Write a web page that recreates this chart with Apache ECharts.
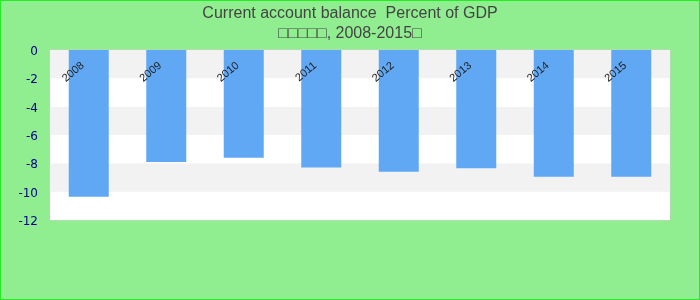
<!DOCTYPE html>
<html><head><meta charset="utf-8">
<script src="https://cdn.jsdelivr.net/npm/echarts@6/dist/echarts.min.js"></script>
<style>html,body{margin:0;padding:0;}#c{width:700px;height:300px;box-sizing:border-box;border:1px solid #22ee22;background:#90ee90;}</style>
</head><body><div id="c"></div>
<script>
const categories = ['2008','2009','2010','2011','2012','2013','2014','2015'];
const values = [-10.35, -7.9, -7.6, -8.3, -8.6, -8.35, -8.95, -8.95];
const titleLine1 = 'Current account balance  Percent of GDP';
const titleLine2 = '□□□□□, 2008-2015□';
const chart = echarts.init(document.getElementById('c'));
chart.setOption({
  backgroundColor: 'transparent',
  title: {
    text: titleLine1 + '\n' + titleLine2,
    left: 'center', top: -2,
    textStyle: {fontFamily: 'Liberation Sans, Arial', fontSize: 16, fontWeight: 'normal', color: '#444', lineHeight: 20}
  },
  grid: {left: 49, right: 29, top: 49, bottom: 79, show: true, borderColor: '#ccc', borderWidth: 1, backgroundColor: '#fff'},
  xAxis: {
    type: 'category', data: categories, position: 'top', z: 10,
    axisLine: {show: false}, axisTick: {show: false},
    axisLabel: {inside: true, rotate: 40, margin: 9, fontSize: 11, padding: [0, 8, 0, 0], color: '#222', fontFamily: 'Liberation Sans, Arial'}
  },
  yAxis: {
    type: 'value', min: -12, max: 0, interval: 2,
    axisLine: {show: false}, axisTick: {show: false}, splitLine: {show: false},
    splitArea: {show: true, areaStyle: {color: ['#ffffff', '#f2f2f2']}},
    axisLabel: {fontSize: 12, color: '#00008b', margin: 12, verticalAlign: 'top', lineHeight: 4, fontFamily: 'DejaVu Sans'}
  },
  series: [{type: 'bar', data: values, barWidth: 40, itemStyle: {color: '#60a8f4'}, animation: false}]
});
</script></body></html>
